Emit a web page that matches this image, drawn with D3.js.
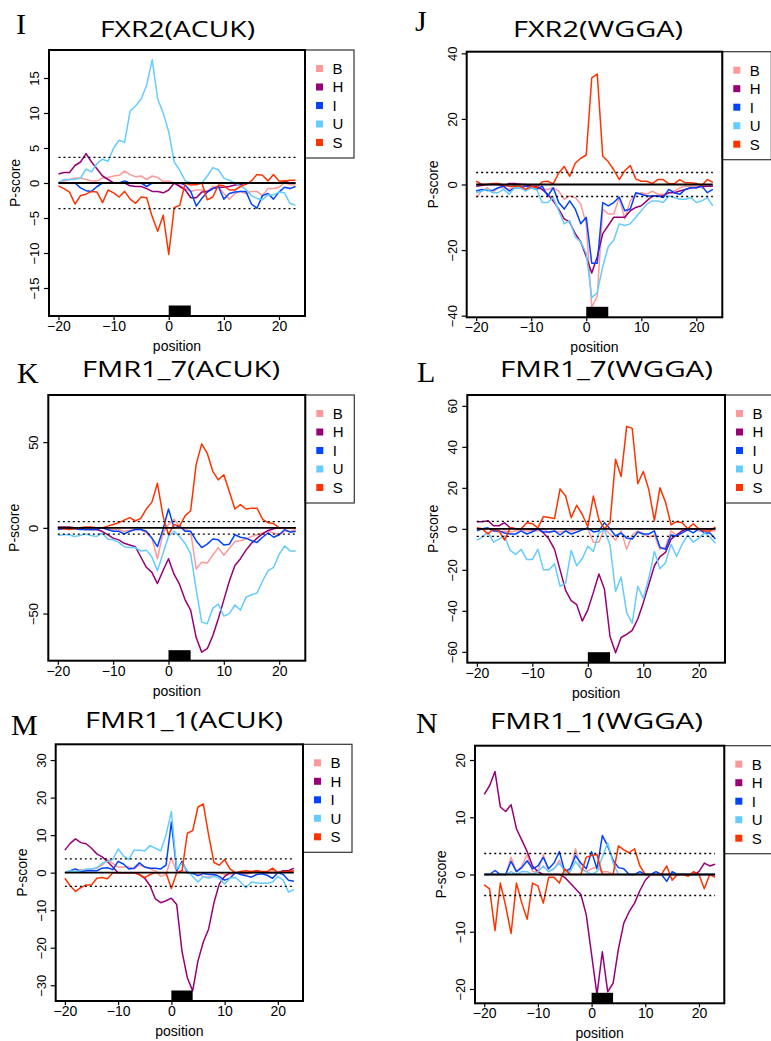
<!DOCTYPE html>
<html>
<head>
<meta charset="utf-8">
<script src="https://cdn.jsdelivr.net/npm/d3@7"></script>
<style>
  body { margin: 0; background: #fff; }
  svg { display: block; }
</style>
</head>
<body>
<script>
// positions relative to the motif start
let positions = [-20,-19,-18,-17,-16,-15,-14,-13,-12,-11,-10,-9,-8,-7,-6,-5,-4,-3,-2,-1,
  0,1,2,3,4,5,6,7,8,9,10,11,12,13,14,15,16,17,18,19,20,21,22,23]
let seriesNames = ["B", "H", "I", "U", "S"]
let seriesColors = ["#ff9999", "#990077", "#0044ff", "#66ccff", "#ff3300"]
let xTicks = [-20, -10, 0, 10, 20]
let threshold = 3.66
let motif = [0, 4]

let fxr2Acuk = {
  B: [0,0.3,0.5,0.7,0.7,0.5,0.3,0.3,0.7,0.8, 1,1.1,1.7,1.2,0.9,1,0.5,1,0.8,0.2,
      0.3,0,-0.3,-0.8,-1.2,-1,-1,-1.2,-0.5,-0.5, -1.5,-2.3,-1.5,-1.2,-1.5,-1.2,-1.2,-1.8,-0.8,-0.8, -0.6,0,-0.2,-0.3],
  H: [1.3,1.5,1.5,2.5,3,4.2,3,2,1,0.5, 0,0,0,-0.4,-0.5,-0.5,-0.8,-1.2,-1.2,-1.4,
      -1,0,-0.5,-1,-2.1,-2.1,-1.3,-1.2,-0.8,-0.6, -0.6,-0.5,-0.3,-0.2,0,0,0,0,0,0, 0,0.3,0,0],
  I: [0,0,0,0,-0.7,-1.1,-1.2,-0.5,0,0, 0,0,0.3,0,0,0,-0.5,0,0,0,
      0,0,0,-0.3,-1.2,-3.3,-2.2,-1.3,-0.8,-0.5, -2.3,-1.5,-1.3,-1.2,-1.2,-3,-3.6,-1.8,-1.5,-2.3, -1.3,-0.6,-0.8,-0.5],
  U: [0,0.5,0.5,0.5,0.7,2,1.6,2.8,3.4,3.1, 5,6.1,5.8,10.3,11,12,14,17.6,12,10,
      7.3,3,1.8,0.3,0,-0.3,0,1,2.2,1.9, 0.7,0.4,0,-0.4,-0.9,-1.8,-2.2,-2.4,-1.7,-1.7, -1.3,-1.4,-2.9,-3.2],
  S: [-0.4,-0.8,-1.3,-3,-1.8,-1.6,-1.2,-1.3,-2.8,-1, -1.4,-2,-1.2,-2.3,-2.9,-2,-2.1,-4.8,-6.9,-4.6,
      -10.2,-3.5,-3.2,0,-0.3,-0.2,0,-2.4,-2,-0.3, -0.4,-1,-1,-0.5,-0.2,0.3,1.2,1.1,0.3,1.2, 0.3,0.3,0.4,0.4]
}

let fxr2Wgga = {
  B: [-4,-2,-1,-2.5,-1,-1,-1.5,-0.5,0.3,-0.5, -1,-1,-1.5,-1.5,-1,-2,-4.5,-3.5,-4,-6,
      -12,-37.5,-34,-7.5,-9,-9,-4,-10.5,-5,-3, -2.5,-3,-2,-3,-3,-2.5,-2,-1,-0.5,-0.5, -0.5,-1,-0.5,-0.5],
  H: [-0.5,-0.3,0,0,0,-0.5,0.3,0.3,0,0, -0.5,-0.5,-1.5,-3,-5,-7.5,-10.5,-11.5,-15,-17.5,
      -22,-27,-22,-15,-12.5,-10,-10,-10,-8,-7, -6.5,-5,-3.5,-3.5,-3.5,-2.5,-2.5,-2,-1.5,-1, -1,-0.5,-0.5,-0.5],
  I: [-2,-1.5,-1.8,-1.8,-1,-0.5,-2,-1,-1,-0.5, -1,-1.5,-0.5,-3.5,-1,-5.5,-7.5,-5,-7.5,-12,
      -10,-24,-24,-5.5,-6.5,-5.5,-3.8,-8,-7.5,-2.5, -3,-3.5,-3.5,-3.5,-4,-1.5,-2.5,-3,-1.5,-1, -1,-0.5,-2.5,-1.5],
  U: [-2.5,-2,-1.5,-2.5,-2.5,-1.5,-3,-1,-1,-2, -1,-1.5,-5.5,-5.5,-4,-8,-12,-11,-16,-17.5,
      -21,-34.5,-33,-25,-19,-17,-12,-12.5,-12,-10, -8,-6,-5,-5,-5.5,-3.5,-4,-4.5,-4.5,-4, -5.5,-5,-4,-6.5],
  S: [1,0,0,0.3,0.3,-0.2,-0.5,-0.5,-0.5,-1.5, -0.5,-1,0.8,1,0.2,3.5,5.5,2.5,6.5,8,
      9,32.5,33.7,8.6,7,4.5,1.5,4.2,5.8,1.7, 1,1,0.3,1.5,1.5,0.2,0.3,1.5,0.5,0.5, 0.3,-0.3,1.5,0.7]
}

let fmr17Acuk = {
  B: [0,0,0,-0.5,0,-1,-1,-1,0,-1, -1,-1,-2,-1.5,-1,-1,-3,-6,-18,-3,
      2,5,1,-1,-2,-24,-20,-20.5,-16,-11.5, -16,-12,-8,-7.5,-6.5,-5,-4,-3,-2,-3, -4,-2,-2,-1],
  H: [0.5,0.5,0.5,0,-0.5,-1,-1,-1,-2,-4, -6,-7,-9,-10,-11,-17,-23,-26,-32.5,-25,
      -18,-27,-33,-42,-48,-64,-72.5,-70.5,-63,-53, -42,-31,-22,-18,-13,-9,-6,-3.5,-1.5,-0.5, 0,0,0,0],
  I: [-1,-0.5,0,-0.5,-1,-1,-1,-1,0,-1, -2,-2,-3.5,-2,-1,-1,-2,-6,-11,-1,
      11,0,1,-2,-2,-7.5,-11.5,-9.5,-6.5,-7, -10,-9.5,-4,-5.5,-6,-7.5,-8.5,-5.5,-3,-5.5, -4,-1,-2.5,-2],
  U: [-4.5,-4,-4,-5,-4.5,-3.5,-4.5,-5,-3,-6.5, -7,-8.5,-11,-11.5,-11.5,-13.5,-13,-17,-25,-15,
      -5,-2,-5,-9,-15,-36,-55,-56,-47,-44.5, -51.5,-50,-45,-48,-40.5,-39,-38,-31,-25,-23, -15.5,-10.5,-13.5,-13.5],
  S: [0,-0.5,-1,-0.5,0,0.5,0.5,0,0,1, 2,3,4.5,6,4,5.5,11,15,26,7,
      -4,2,1,7,10,37,49,43.5,33,28, 31,21,11,13.5,11,11.5,11.5,5,3,2.5, 0,0,0,0]
}

let fmr17Wgga = {
  B: [0,0,0,-1,-1.5,-1,-1.5,-1,-0.5,-1, -1,-1,0,-2,-1,-1.5,-1,-1,-0.5,0,
      0,-6.5,-6.5,0,-2.5,-5.5,-1,-10,-3,-1, -2.5,-4,-3,-10,-9,-1,-3,-1,-0.5,0, -1,-1,-1,-1],
  H: [3.5,3.5,4,1.5,1.5,3,0.5,0,0,0, -0.5,0,-2,-5,-10,-20,-30,-35,-37,-45,
      -39.5,-31,-22,-29.5,-52.5,-60.5,-53,-51.5,-49.5,-44, -36,-27,-18,-13.5,-11.5,-5,-3,-1,0,0, 0,0,0,0],
  I: [-1,0,0.5,-1,-1,-2,-2.5,-2.5,-1,-2.5, -1.5,0,-1.5,-1.5,-1,-3,-1,-2.5,-1.5,-0.5,
      0.5,-1.5,-1,3,0,-3.5,-2,-4.5,-5,-1.5, -2.5,-2.5,-1,-9,-10,-3,-3.5,-2,-0.5,-2, 0,-2,-2,-5],
  U: [-5.5,-4,-1.5,-6.5,-5,-3.5,-10.5,-12.5,-10,-15, -15,-10,-20,-20,-17,-28,-26.5,-10.5,-18,-14.5,
      -8.5,-11,-2,-0.5,-8,-30.5,-23.5,-41,-46,-28, -34,-24,-11,-19.5,-16.5,-7.5,-13.5,-7.5,-3,-6.5, -4.5,-2,-4,-7],
  S: [0.5,0,-2.5,0,-1,-5.5,0.5,0,0,3, 2.5,0.5,6,5.5,5,19.5,16,5.5,11.5,7,
      1,16,4.5,0,3,34,25.5,50,49,22, 28,19,4,20,13,2,3.5,3,0,2.5, 0,-1,-1,1]
}

let fmr11Acuk = {
  B: [0,0.2,0.3,0.8,0.8,1,1.2,2,3.5,2.5, 1.5,1.5,1.5,1,2,1.5,1,0.5,-1,-0.5,
      4,0.2,0.5,0,0,-0.3,-1,-1.2,-0.8,0, -0.5,-0.5,0,-0.3,-0.5,0,0.2,0,0,0.5, 0,0.5,0.5,0.5],
  H: [6,7.8,9,8,7.7,6.5,5,4.2,3,1.5, 0,0,0,0,-0.5,-1.5,-3.5,-7,-8,-7.5,
      -6.8,-8.5,-21,-28,-31.5,-23.5,-18.5,-15,-8,-3, -1,0,0,0,0,0,0.5,0,0,0, 0,0.5,0.5,1.2],
  I: [0,0.5,1,0.3,0.5,0.5,0.5,1.2,1.3,0.8, 3,2.3,1,1.2,2.6,1.5,1.2,1.2,1,2,
      13.5,0.5,3,0,-0.2,-0.8,-0.2,-0.5,-0.5,-1, -2,-1.5,0,-0.5,-0.8,-1.2,-0.5,-0.3,-0.7,-1.5, 0,-0.5,-2,-2.3],
  U: [0,0.5,0.3,0.5,1,1,1.3,2.5,3,3.5, 6.3,4.5,3.5,6,6,5.8,7.2,6.5,5.8,10,
      16.3,1,2.5,0.5,-1,-2.5,-1,-1.5,-1,-1.5, -3,-1.5,-1.3,-2.5,-4,-2.5,-2.7,-2.8,-2.8,-2.5, -1,-2,-5.2,-4.5],
  S: [-1.5,-3.5,-5,-4,-3.3,-3.3,-1.5,-1.3,-1.6,0, 0,0,0,0,-0.5,-1.3,-0.5,0,0,0,
      -4.2,0,0.5,10.5,11.2,17.5,18.3,10,2.7,2, 3.5,1,0,0.3,0.5,0.3,0.5,0.3,0.3,1.2, 0,0.3,0.3,0.5]
}

let fmr11Wgga = {
  B: [0,0,0,0,0,3,0.5,1.5,3.5,0.5, 0.5,3.5,0.5,1,2.5,0.5,0.5,4.5,1,0.5,
      1,1.3,0.5,0.5,0,0,0,0,0,0, 0,0,0,0,0,0,0,0,0,0, 0,0,0,0],
  H: [14,15.5,18,11.8,11,12.2,8,6,4,1.5, 0.5,0,0,0,0,-0.5,-1.5,-2.5,-3.5,-7,
      -14,-21,-13.5,-20.5,-19,-13,-8.5,-6.5,-5,-2.8, -1,0,0,0,0,0,0,0,0,0, 0.5,2,1.5,1.8],
  I: [0,0,0.7,0,0,2.3,0.5,1.2,2.4,1, 1.5,3,1,2,4,0.5,1,3.3,2,1,
      4,1,6.8,5,2.5,1.2,1,0,0,0.5, 0,0,0.5,0,-1.2,0.5,0,0,0,0, 0,0,0,0],
  U: [0,0,0,0,0,0.5,0,0.5,0.5,0, 0.5,1.5,0.5,1,2,0.5,0.5,2.3,1,0.5,
      0,0.5,3,5.5,2,0,0,0,0,0, 0,0,0,0,0,0,0,0,0,0, 0,0,0,0],
  S: [-1.8,-2.5,-9.8,-1.5,-5.5,-10.3,-1.5,-5,-7.8,-1.5, -2,-5,-0.5,-0.5,-1.5,1,0,0,0,3,
      3.3,3.5,0,0,0,5,4.3,3.8,4.5,1.5, 0,0,0,0,1.5,-1,0,0,-0.3,0.5, 0,-2.5,0,-0.5]
}

// layout of the six panels (box = left, top, width, height of plot area)
let panels = [
  {letter: "I", title: "FXR2(ACUK)", data: fxr2Acuk, yMax: 19, yTicks: [-15,-10,-5,0,5,10,15],
   box: [49, 50, 256, 266], titleX: 177.5, titleY: 36.5, titleW: 155, letterX: 16, letterY: 34},
  {letter: "J", title: "FXR2(WGGA)", data: fxr2Wgga, yMax: 40.5, yTicks: [-40,-20,0,20,40],
   box: [466.7, 51.7, 255.6, 265.6], titleX: 598, titleY: 37, titleW: 170, letterX: 415, letterY: 31},
  {letter: "K", title: "FMR1_7(ACUK)", data: fmr17Acuk, yMax: 77.5, yTicks: [-50,0,50],
   box: [48.3, 395, 257, 265.7], titleX: 181, titleY: 376.5, titleW: 198, letterX: 17, letterY: 383},
  {letter: "L", title: "FMR1_7(WGGA)", data: fmr17Wgga, yMax: 65.3, yTicks: [-60,-40,-20,0,20,40,60],
   box: [467.3, 395, 257.7, 267.7], titleX: 606.5, titleY: 376.5, titleW: 213, letterX: 417, letterY: 382},
  {letter: "M", title: "FMR1_1(ACUK)", data: fmr11Acuk, yMax: 34.2, yTicks: [-30,-20,-10,0,10,20,30],
   box: [55.7, 744.3, 247.3, 256.7], titleX: 184, titleY: 728, titleW: 198, letterX: 11, letterY: 735},
  {letter: "N", title: "FMR1_1(WGGA)", data: fmr11Wgga, yMax: 22.5, yTicks: [-20,-10,0,10,20],
   box: [475, 745.7, 249.3, 257.6], titleX: 596.5, titleY: 728.5, titleW: 213, letterX: 416, letterY: 733}
]

let svg = d3.select("body").append("svg")
  .attr("width", 771)
  .attr("height", 1041)
  .style("font-family", "'Liberation Sans', Arial, sans-serif")

svg.append("rect").attr("width", 771).attr("height", 1041).attr("fill", "#fff")

panels.forEach(p => {
  let [left, top, w, h] = p.box
  let x = d3.scaleLinear().domain([-21.72, 24.72]).range([0, w])
  let y = d3.scaleLinear().domain([-p.yMax, p.yMax]).range([h, 0])
  let g = svg.append("g").attr("transform", `translate(${left},${top})`)

  // panel letter and title
  svg.append("text")
    .attr("x", p.letterX).attr("y", p.letterY)
    .attr("font-family", "'Liberation Serif', 'Times New Roman', serif")
    .attr("font-size", 30)
    .text(p.letter)
  svg.append("text")
    .attr("x", p.titleX).attr("y", p.titleY)
    .attr("text-anchor", "middle")
    .attr("font-family", "'Open Sans', sans-serif")
    .attr("font-size", 21)
    .attr("textLength", p.titleW)
    .attr("lengthAdjust", "spacingAndGlyphs")
    .text(p.title)

  // legend
  let leg = g.append("g").attr("transform", `translate(${w},0)`)
  leg.append("rect")
    .attr("width", 49).attr("height", 108)
    .attr("fill", "#fff").attr("stroke", "#333").attr("stroke-width", 1.2)
  seriesNames.forEach((s, i) => {
    leg.append("rect")
      .attr("x", 11).attr("y", 15 + i * 18.5)
      .attr("width", 7).attr("height", 7)
      .attr("fill", seriesColors[i])
    leg.append("text")
      .attr("x", 27.5).attr("y", 18.5 + i * 18.5)
      .attr("dy", "0.36em")
      .attr("font-size", 15)
      .text(s)
  })

  // series lines
  let line = d3.line()
    .x((d, i) => x(positions[i]))
    .y(d => y(d))
  seriesNames.forEach((s, i) => {
    g.append("path")
      .datum(p.data[s])
      .attr("d", line)
      .attr("fill", "none")
      .attr("stroke", seriesColors[i])
      .attr("stroke-width", 1.5)
      .attr("stroke-linejoin", "round")
  })

  // reference lines
  let x0 = x(positions[0]), x1 = x(positions[positions.length - 1])
  g.append("line")
    .attr("x1", x0).attr("x2", x1)
    .attr("y1", y(0)).attr("y2", y(0))
    .attr("stroke", "#000").attr("stroke-width", 1.8)
  ;[threshold, -threshold].forEach(t => {
    g.append("line")
      .attr("x1", x0).attr("x2", x1)
      .attr("y1", y(t)).attr("y2", y(t))
      .attr("stroke", "#000").attr("stroke-width", 1.4)
      .attr("stroke-dasharray", "2,3")
  })

  // motif block
  g.append("rect")
    .attr("x", x(motif[0])).attr("width", x(motif[1]) - x(motif[0]))
    .attr("y", h - 10.5).attr("height", 10.5)
    .attr("fill", "#000")

  // frame
  g.append("rect")
    .attr("width", w).attr("height", h)
    .attr("fill", "none").attr("stroke", "#000").attr("stroke-width", 2)

  // axes
  let xAxis = g.append("g")
    .attr("transform", `translate(0,${h})`)
    .call(d3.axisBottom(x).tickValues(xTicks).tickSize(4).tickPadding(1))
  let yAxis = g.append("g")
    .call(d3.axisLeft(y).tickValues(p.yTicks).tickSize(5))
  ;[xAxis, yAxis].forEach(a => {
    a.select(".domain").remove()
    a.selectAll("line").attr("stroke", "#000").attr("stroke-width", 1.2)
    a.selectAll("text")
      .attr("font-family", "'Liberation Sans', Arial, sans-serif")
      .attr("font-size", 14)
      .attr("fill", "#000")
  })
  yAxis.selectAll("text")
    .attr("x", 0).attr("dy", 0)
    .attr("font-size", 13)
    .attr("text-anchor", "middle")
    .attr("transform", "translate(-10,0) rotate(-90)")

  g.append("text")
    .attr("x", w / 2).attr("y", h + 35)
    .attr("text-anchor", "middle")
    .attr("font-size", 14)
    .text("position")
  g.append("text")
    .attr("transform", `translate(-29,${h / 2}) rotate(-90)`)
    .attr("text-anchor", "middle")
    .attr("font-size", 14)
    .text("P-score")
})
</script>
</body>
</html>
